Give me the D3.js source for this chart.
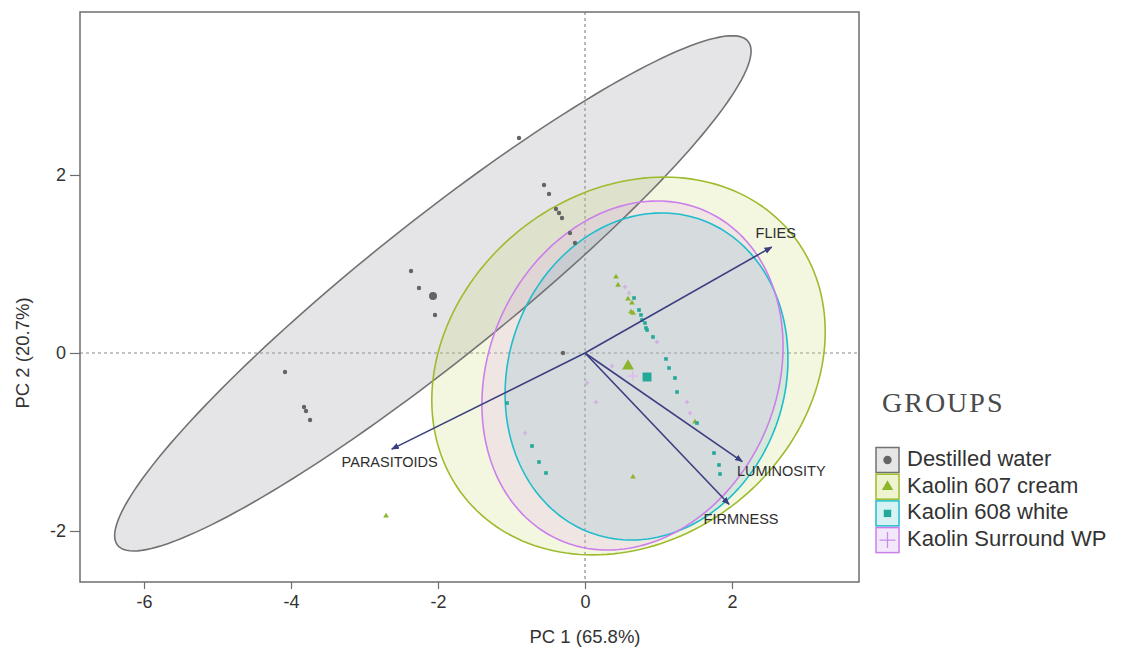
<!DOCTYPE html>
<html>
<head>
<meta charset="utf-8">
<script src="https://cdn.jsdelivr.net/npm/d3@7"></script>
<style>
  html, body { margin: 0; padding: 0; background: #fff; }
  svg { display: block; font-family: "Liberation Sans", Arial, sans-serif; }
</style>
</head>
<body>
<svg id="chart" width="1131" height="657"></svg>
<script>
// --- data (PC1, PC2) ---
var groups = ["Destilled water", "Kaolin 607 cream", "Kaolin 608 white", "Kaolin Surround WP"];

var waterPts = [[-0.898, 2.416], [-0.558, 1.888], [-0.490, 1.787], [-0.395, 1.618], [-0.354, 1.573],
  [-0.313, 1.517], [-0.204, 1.348], [-0.136, 1.236], [-2.367, 0.921], [-2.259, 0.730], [-2.041, 0.427],
  [-4.082, -0.213], [-3.823, -0.607], [-3.796, -0.652], [-3.741, -0.753], [-0.30, 0.0]];
var creamPts = [[0.422, 0.854], [0.449, 0.764], [0.585, 0.607], [0.639, 0.562], [0.626, 0.461],
  [0.653, 0.449], [1.497, -0.775], [0.653, -1.393], [-2.707, -1.831]];
var whitePts = [[0.667, 0.618], [0.735, 0.483], [0.762, 0.427], [0.776, 0.371], [0.816, 0.337],
  [0.830, 0.281], [0.844, 0.258], [0.925, 0.180], [1.102, -0.067], [1.143, -0.169], [1.224, -0.281],
  [1.252, -0.438], [1.524, -0.787], [1.755, -1.124], [1.823, -1.258], [1.837, -1.360],
  [-1.061, -0.562], [-0.721, -1.045], [-0.626, -1.225], [-0.531, -1.348]];
var surroundPts = [[0.544, 0.742], [0.599, 0.674], [0.980, 0.124], [1.388, -0.551], [1.429, -0.674],
  [0.150, -0.551], [0.027, -0.337], [-0.816, -0.899], [0.367, -0.146]];

// group means
var centroids = [[-2.068, 0.640], [0.585, -0.146], [0.844, -0.270], [0.650, -0.258]];

// confidence ellipses: centre, semi-axis vector u, semi-axis vector v (data units)
var ellipses = [
  {c: [-2.07, 0.67], u: [4.29, 2.83], v: [0.585, -0.607]},
  {c: [0.592, -0.146], u: [2.23, 1.475], v: [1.48, -1.526]},
  {c: [0.837, -0.264], u: [0.709, 1.771], v: [1.789, -0.489]},
  {c: [0.646, -0.253], u: [1.0, 1.846], v: [1.788, -0.661]}
];

// variable loadings (arrows)
var loadNames = ["FLIES", "PARASITOIDS", "LUMINOSITY", "FIRMNESS"];
var loadX = [2.54, -2.63, 2.14, 1.96];
var loadY = [1.19, -1.08, -1.22, -1.70];

var xTicks = [-6, -4, -2, 0, 2];
var yTicks = [-2, 0, 2];

// --- styling ---
var strokeCol = ["#727272", "#9dbb2d", "#1fbccc", "#cc7fea"];
var fillCol = ["#a0a0a6", "#c8da70", "#5ab2c4", "#e2a6f0"];
var fillOp = [0.27, 0.22, 0.2, 0.2];
var ptCol = ["#646464", "#8cb52a", "#22a99a", "#d4a6e6"];
var boxFill = ["#e6e6e6", "#eef4cf", "#d6f2f2", "#f3e8f9"];
var labelOff = {FLIES: [4, -13], PARASITOIDS: [-2, 14], LUMINOSITY: [39, 11], FIRMNESS: [12, 16]};

var svg = d3.select("#chart");
var x = d3.scaleLinear().domain([-6.871, 3.728]).range([80, 859]);
var y = d3.scaleLinear().domain([-2.573, 3.831]).range([582, 12]);

var plot = svg.append("g");

// zero lines
plot.append("line")
  .attr("x1", x(0)).attr("x2", x(0)).attr("y1", y.range()[1]).attr("y2", y.range()[0])
  .attr("stroke", "#8a8a8a").attr("stroke-width", 1.2).attr("stroke-dasharray", "3,3");
plot.append("line")
  .attr("x1", x.range()[0]).attr("x2", x.range()[1]).attr("y1", y(0)).attr("y2", y(0))
  .attr("stroke", "#8a8a8a").attr("stroke-width", 1.2).attr("stroke-dasharray", "3,3");

// ellipses
var tt = d3.range(0, 2 * Math.PI + 0.001, Math.PI / 90);
var ell = d3.line()
  .x(function(d) { return x(d.e.c[0] + Math.cos(d.t) * d.e.u[0] + Math.sin(d.t) * d.e.v[0]); })
  .y(function(d) { return y(d.e.c[1] + Math.cos(d.t) * d.e.u[1] + Math.sin(d.t) * d.e.v[1]); });

ellipses.forEach(function(e, i) {
  plot.append("path")
    .datum(tt.map(function(t) { return {t: t, e: e}; }))
    .attr("d", ell)
    .attr("fill", fillCol[i]).attr("fill-opacity", fillOp[i]);
});
ellipses.forEach(function(e, i) {
  plot.append("path")
    .datum(tt.map(function(t) { return {t: t, e: e}; }))
    .attr("d", ell)
    .attr("fill", "none").attr("stroke", strokeCol[i]).attr("stroke-width", 1.6);
});

// points (Surround uses a thin "+")
function plus(r) { return "M" + (-r) + ",0H" + r + "M0," + (-r) + "V" + r; }
var symTypes = [d3.symbolCircle, d3.symbolTriangle, d3.symbolSquare, null];
var allPts = [waterPts, creamPts, whitePts, surroundPts];
var smallSize = [15, 14, 13, 2.2];
var bigSize = [50, 60, 80, 5];

function mark(i, s) {
  return i == 3 ? plus(s) : d3.symbol().type(symTypes[i]).size(s)();
}

allPts.forEach(function(pts, i) {
  plot.selectAll(null).data(pts).enter().append("path")
    .attr("d", mark(i, smallSize[i]))
    .attr("transform", function(d) { return "translate(" + x(d[0]) + "," + y(d[1]) + ")"; })
    .attr("fill", i == 3 ? "none" : ptCol[i])
    .attr("stroke", i == 3 ? ptCol[i] : "none").attr("stroke-width", 1.2);
});
plot.selectAll(null).data(centroids).enter().append("path")
  .attr("d", function(d, i) { return mark(i, bigSize[i]); })
  .attr("transform", function(d) { return "translate(" + x(d[0]) + "," + y(d[1]) + ")"; })
  .attr("fill", function(d, i) { return i == 3 ? "none" : ptCol[i]; })
  .attr("stroke", function(d, i) { return i == 3 ? "#e4b8f2" : "none"; })
  .attr("stroke-width", 1.5);

// arrows
svg.append("defs").append("marker")
  .attr("id", "arr").attr("viewBox", "0 0 10 10").attr("refX", 9).attr("refY", 5)
  .attr("markerWidth", 5).attr("markerHeight", 5).attr("orient", "auto")
  .append("path").attr("d", "M0,1 L10,5 L0,9 Z").attr("fill", "#3b3f80");

loadNames.forEach(function(n, i) {
  plot.append("line")
    .attr("x1", x(0)).attr("y1", y(0))
    .attr("x2", x(loadX[i])).attr("y2", y(loadY[i]))
    .attr("stroke", "#3b3f80").attr("stroke-width", 1.6)
    .attr("marker-end", "url(#arr)");
  plot.append("text")
    .attr("x", x(loadX[i]) + labelOff[n][0])
    .attr("y", y(loadY[i]) + labelOff[n][1])
    .attr("text-anchor", "middle").attr("dominant-baseline", "middle")
    .attr("font-size", 14.5).attr("fill", "#2e2e2e")
    .text(n);
});

// frame
svg.append("rect")
  .attr("x", x.range()[0]).attr("y", y.range()[1])
  .attr("width", x.range()[1] - x.range()[0]).attr("height", y.range()[0] - y.range()[1])
  .attr("fill", "none").attr("stroke", "#6e6e6e").attr("stroke-width", 1.5);

// axes
var fmt = function(d) { return String(d); };
var gx = svg.append("g").attr("transform", "translate(0," + y.range()[0] + ")")
  .call(d3.axisBottom(x).tickValues(xTicks).tickFormat(fmt).tickSize(7).tickPadding(6));
var gy = svg.append("g").attr("transform", "translate(" + x.range()[0] + ",0)")
  .call(d3.axisLeft(y).tickValues(yTicks).tickFormat(fmt).tickSize(10).tickPadding(4));
[gx, gy].forEach(function(g) {
  g.select(".domain").remove();
  g.selectAll("line").attr("stroke", "#6e6e6e").attr("stroke-width", 1.2);
  g.selectAll("text").attr("font-size", 18).attr("fill", "#333")
    .attr("font-family", "Liberation Sans, Arial, sans-serif");
});

svg.append("text")
  .attr("x", x(0)).attr("y", 643).attr("text-anchor", "middle")
  .attr("font-size", 18.5).attr("fill", "#333").text("PC 1 (65.8%)");
svg.append("text")
  .attr("transform", "translate(29," + y(0) + ") rotate(-90)")
  .attr("text-anchor", "middle")
  .attr("font-size", 18.5).attr("fill", "#333").text("PC 2 (20.7%)");

// legend
var leg = svg.append("g");
leg.append("text")
  .attr("x", 882).attr("y", 412)
  .attr("font-family", "Liberation Serif, Times New Roman, serif")
  .attr("font-size", 28).attr("letter-spacing", 2).attr("fill", "#4a4a4a")
  .text("GROUPS");

groups.forEach(function(g, i) {
  var cy = 460 + i * 26.7;
  leg.append("rect")
    .attr("x", 876).attr("y", cy - 12.5).attr("width", 23).attr("height", 25)
    .attr("fill", boxFill[i]).attr("stroke", strokeCol[i]).attr("stroke-width", 1.5);
  leg.append("path")
    .attr("d", mark(i, i == 3 ? 8 : 55))
    .attr("transform", "translate(887.5," + cy + ")")
    .attr("fill", i == 3 ? "none" : ptCol[i])
    .attr("stroke", i == 3 ? "#c78ce6" : "none").attr("stroke-width", 1.3);
  leg.append("text")
    .attr("x", 907).attr("y", cy).attr("dominant-baseline", "middle")
    .attr("font-size", 22).attr("fill", "#333")
    .text(g);
});
</script>
</body>
</html>
